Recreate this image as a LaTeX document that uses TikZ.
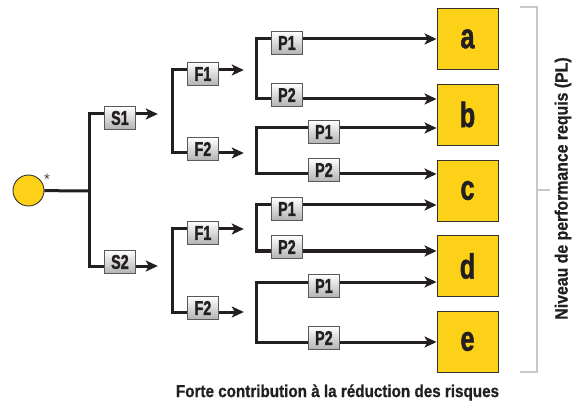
\documentclass[tikz,border=0pt]{standalone}
\usepackage{fontspec}
\setmainfont{Liberation Sans}
\newfontfamily\capfont{Liberation Sans Bold}[FakeStretch=0.88,FakeBold=0.8]
\newfontfamily\narrowfont{Liberation Sans Bold}[FakeStretch=0.72,FakeBold=1.4]
\usetikzlibrary{arrows.meta}
\definecolor{plyellow}{RGB}{253,209,24}
\definecolor{wiregray}{RGB}{35,31,32}
\definecolor{bracegray}{RGB}{200,200,200}

\begin{document}
\begin{tikzpicture}[x=1pt,y=-1pt,line join=miter,>={Stealth[length=12pt,width=11pt,inset=3pt]},
    wire/.style={draw=wiregray,line width=3pt},
    tag/.style={draw=black!65,line width=0.8pt,top color=white,bottom color=black!30,
        minimum width=31pt,minimum height=23pt,inner sep=0pt,text=wiregray,
        font=\narrowfont\fontsize{20}{20}\selectfont},
    uptag/.style={tag,yshift=-4pt},
    lowtag/.style={tag,yshift=4pt},
    level/.style={draw=black!80,fill=plyellow,line width=0.9pt,minimum width=61pt,
        minimum height=61pt,inner sep=0pt,text=wiregray,
        font=\narrowfont\fontsize{35}{35}\selectfont}]
  \useasboundingbox (0,0) rectangle (575,403);

  % risk levels a..e
  \foreach \n/\y in {a/39,b/114.5,c/190.5,d/266,e/341.5}
    \node[level] (\n) at (467.5,\y) {\n};

  % starting point
  \node[circle,draw=black!80,fill=plyellow,line width=0.9pt,minimum size=31pt,inner sep=0pt] (root) at (28.5,190.5) {};
  \node[text=black!75,font=\fontsize{15}{15}\selectfont] (mark) at (47,179) {*};

  % S level
  \coordinate (k0) at (89,191);
  \coordinate (sa) at (104,114);
  \coordinate (sb) at (104,266);
  \node[uptag,anchor=west] (S1) at (sa) {S1};
  \node[lowtag,anchor=west] (S2) at (sb) {S2};
  \draw[wire] (root) -- (k0);
  \draw[wire] (sa) -| (k0) |- (sb);
  \draw[wire,->] (S1.east |- sa) -- ++(22,0) coordinate (sax);
  \draw[wire,->] (S2.east |- sb) -- ++(22,0) coordinate (sbx);

  % F level
  \foreach \g/\ya/\yb in {1/70/153, 2/229/312} {
      \coordinate (fa\g) at (187,\ya);
      \coordinate (fb\g) at (187,\yb);
      \node[uptag,anchor=west] (F1\g) at (fa\g) {F1};
      \node[lowtag,anchor=west] (F2\g) at (fb\g) {F2};
      \draw[wire] (fa\g) -- (172,\ya) -- (172,\yb) -- (fb\g);
      \draw[wire,->] (F1\g.east |- fa\g) -- ++(25,0) coordinate (fax\g);
      \draw[wire,->] (F2\g.east |- fb\g) -- ++(25,0) coordinate (fbx\g);
    }

  % P level
  \foreach \g/\ya/\yb/\xp/\ta/\tb in {1/39/99/271/a/b, 2/128/174/308/b/c, 3/205/251/271/c/d, 4/282/342/308/d/e} {
      \coordinate (pa\g) at (\xp,\ya);
      \coordinate (pb\g) at (\xp,\yb);
      \node[uptag,anchor=west] (P1\g) at (pa\g) {P1};
      \node[lowtag,anchor=west] (P2\g) at (pb\g) {P2};
      \draw[wire] (pa\g) -- (256,\ya) -- (256,\yb) -- (pb\g);
      \draw[wire,->] (P1\g.east |- pa\g) -- (\ta.west |- pa\g);
      \draw[wire,->] (P2\g.east |- pb\g) -- (\tb.west |- pb\g);
    }

  % bracket and captions
  \draw[bracegray,line width=2pt] (520,7) -- (537,7) -- (537,372) -- (520,372);
  \draw[bracegray,line width=2pt] (537,190) -- (550,190);
  \node[rotate=90,text=wiregray,font=\capfont\fontsize{18}{18}\selectfont] (pl) at (563,188.5) {Niveau de performance requis (PL)};
  \node[text=wiregray,font=\capfont\fontsize{17.3}{17.3}\selectfont] (gain) at (337.5,392.5) {Forte contribution à la réduction des risques};
\end{tikzpicture}
\end{document}
